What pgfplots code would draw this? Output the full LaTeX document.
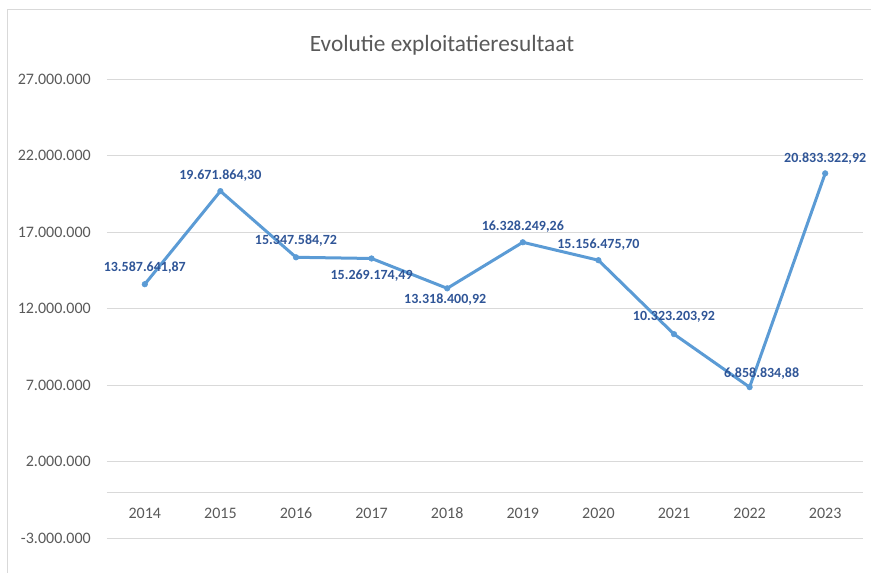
\documentclass[border=0pt]{standalone}
\usepackage{pgfplots}
\pgfplotsset{compat=1.18}
\usepackage{pgfplotstable}
\usepackage{fontspec}
\setmainfont{Carlito}
\definecolor{gridc}{HTML}{D9D9D9}
\definecolor{txt}{HTML}{595959}
\definecolor{linec}{HTML}{5B9BD5}
\definecolor{lab}{HTML}{2F5597}

\pgfplotstableread{
x y dx dy label
0 13587641.87 0 12.75 13.587.641,87
1 19671864.30 0 12 19.671.864,30
2 15347584.72 0 12.75 15.347.584,72
3 15269174.49 0 -12.75 15.269.174,49
4 13318400.92 -1.5 -8.25 13.318.400,92
5 16328249.26 0 12 16.328.249,26
6 15156475.70 0 12 15.156.475,70
7 10323203.92 0 12.75 10.323.203,92
8 6858834.88 9 10.5 6.858.834,88
9 20833322.92 0 11.25 20.833.322,92
}\data

\begin{document}
\begin{tikzpicture}[x=1pt,y=1pt]
\useasboundingbox (-80.25,-25.5) rectangle (573,403.5);
\draw[gridc, line width=0.75pt] (-74.25,-30) -- (-74.25,396) -- (600,396);
\node[text=txt, font=\fontsize{17.5}{20}\selectfont] at (251.25,369.75) {Evolutie exploitatieresultaat};
\begin{axis}[
  at={(0,0)}, anchor=south west, scale only axis,
  width=567pt, height=344.25pt,
  xmin=-0.5, xmax=9.5, ymin=-3000000, ymax=27000000,
  scaled y ticks=false,
  axis x line*=middle, axis y line*=left,
  y axis line style={draw=none},
  x axis line style={draw=gridc, line width=0.75pt},
  major tick length=0pt,
  xtick={0,...,9},
  xticklabels={2014,2015,2016,2017,2018,2019,2020,2021,2022,2023},
  ytick={-3000000,2000000,7000000,12000000,17000000,22000000,27000000},
  yticklabels={-3.000.000,2.000.000,7.000.000,12.000.000,17.000.000,22.000.000,27.000.000},
  ymajorgrids, grid style={draw=gridc, line width=0.75pt},
  tick label style={text=txt, font=\fontsize{12}{14}\selectfont, inner sep=0pt},
  yticklabel style={anchor=east, xshift=-12pt},
  xticklabel style={anchor=center, yshift=-16pt},
  clip=false,
]
\addplot[color=linec, line width=2.25pt, mark=*, mark size=2.1pt, mark options={solid, fill=linec, draw=linec, line width=0.4pt},
  nodes near coords, point meta=explicit symbolic,
  visualization depends on={\thisrow{dx} \as \dx},
  visualization depends on={\thisrow{dy} \as \dy},
  nodes near coords style={anchor=center, xshift=\dx*1pt, yshift=\dy*1pt, font=\bfseries\fontsize{10.5}{12}\selectfont, text=lab, inner sep=0pt},
] table[x=x, y=y, meta=label] {\data};
\end{axis}
\end{tikzpicture}
\end{document}
